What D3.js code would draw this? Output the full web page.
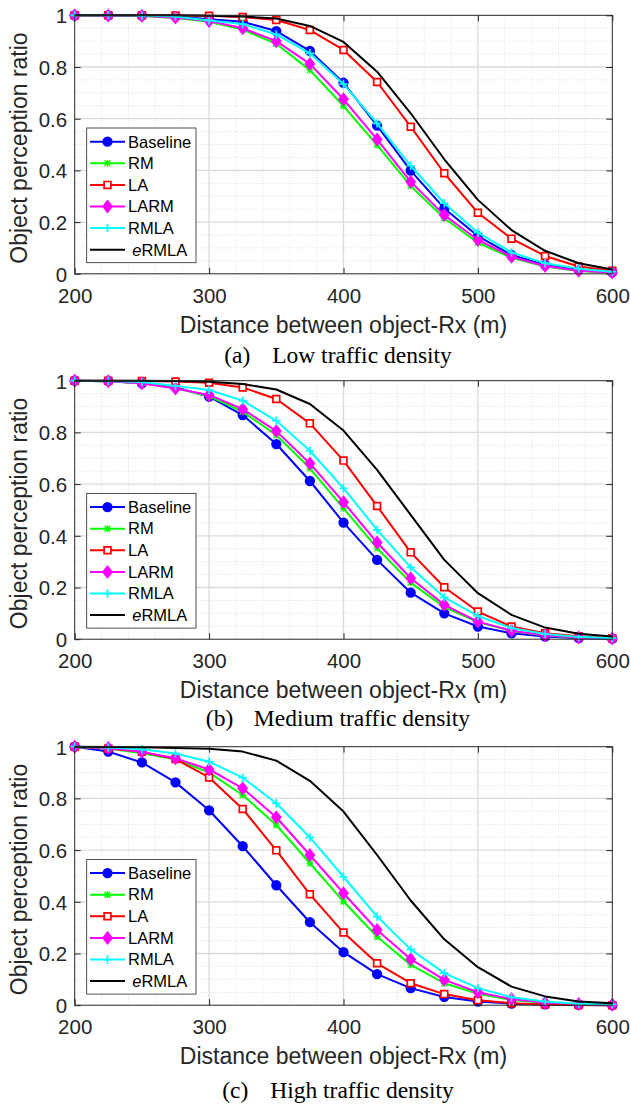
<!DOCTYPE html>
<html>
<head>
<meta charset="utf-8">
<script src="https://cdn.jsdelivr.net/npm/d3@7"></script>
<style>
  body { margin: 0; background: #fff; }
  svg { display: block; }
</style>
</head>
<body>
<div id="chart"></div>
<script>
// x values shared by every panel
var distances = [200, 225, 250, 275, 300, 325, 350, 375, 400, 425, 450, 475, 500, 525, 550, 575, 600];
var seriesNames = ["Baseline", "RM", "LA", "LARM", "RMLA", "eRMLA"];
var xTicks = [200, 300, 400, 500, 600];
var yTicks = [0, 0.2, 0.4, 0.6, 0.8, 1];
var captionTags = ["(a)", "(b)", "(c)"];
var captionTexts = ["Low traffic density", "Medium traffic density", "High traffic density"];

// (a) low traffic density
var lowBaseline = [1, 1, 0.999, 0.995, 0.985, 0.975, 0.939, 0.862, 0.739, 0.573, 0.399, 0.253, 0.146, 0.073, 0.034, 0.015, 0.006];
var lowRM       = [1, 0.999, 0.997, 0.99, 0.975, 0.945, 0.89, 0.788, 0.649, 0.498, 0.34, 0.215, 0.12, 0.062, 0.028, 0.011, 0.004];
var lowLA       = [1, 1, 1, 0.999, 0.998, 0.993, 0.982, 0.943, 0.866, 0.742, 0.569, 0.389, 0.236, 0.136, 0.069, 0.028, 0.012];
var lowLARM     = [1, 0.999, 0.998, 0.991, 0.978, 0.95, 0.9, 0.812, 0.675, 0.52, 0.356, 0.227, 0.131, 0.066, 0.03, 0.012, 0.005];
var lowRMLA     = [1, 1, 0.999, 0.995, 0.98, 0.966, 0.926, 0.853, 0.734, 0.582, 0.418, 0.273, 0.159, 0.083, 0.041, 0.02, 0.008];
var lowERMLA    = [1, 1, 1, 1, 0.998, 0.995, 0.988, 0.959, 0.897, 0.782, 0.621, 0.443, 0.286, 0.169, 0.089, 0.041, 0.017];

// (b) medium traffic density
var medBaseline = [1, 0.998, 0.99, 0.975, 0.938, 0.867, 0.755, 0.612, 0.451, 0.307, 0.18, 0.1, 0.049, 0.023, 0.01, 0.004, 0.002];
var medRM       = [1, 0.998, 0.99, 0.972, 0.94, 0.88, 0.79, 0.661, 0.506, 0.352, 0.219, 0.124, 0.066, 0.032, 0.014, 0.006, 0.003];
var medLA       = [1, 1, 0.999, 0.997, 0.992, 0.974, 0.929, 0.835, 0.691, 0.515, 0.336, 0.201, 0.107, 0.049, 0.023, 0.011, 0.004];
var medLARM     = [1, 0.998, 0.99, 0.97, 0.945, 0.89, 0.805, 0.68, 0.53, 0.374, 0.236, 0.133, 0.068, 0.033, 0.015, 0.007, 0.003];
var medRMLA     = [1, 0.999, 0.995, 0.98, 0.964, 0.923, 0.845, 0.729, 0.584, 0.423, 0.278, 0.162, 0.09, 0.043, 0.02, 0.009, 0.004];
var medERMLA    = [1, 1, 1, 0.999, 0.996, 0.987, 0.966, 0.91, 0.807, 0.655, 0.481, 0.307, 0.178, 0.094, 0.045, 0.021, 0.01];

// (c) high traffic density
var highBaseline = [1, 0.981, 0.939, 0.862, 0.754, 0.615, 0.464, 0.321, 0.205, 0.12, 0.066, 0.032, 0.014, 0.006, 0.003, 0.001, 0];
var highRM       = [1, 0.993, 0.975, 0.951, 0.9, 0.813, 0.697, 0.549, 0.401, 0.265, 0.156, 0.085, 0.044, 0.02, 0.009, 0.004, 0.002];
var highLA       = [1, 0.993, 0.98, 0.952, 0.881, 0.759, 0.599, 0.429, 0.281, 0.162, 0.085, 0.043, 0.019, 0.008, 0.003, 0.001, 0];
var highLARM     = [1, 0.995, 0.98, 0.955, 0.912, 0.839, 0.727, 0.581, 0.433, 0.291, 0.178, 0.098, 0.05, 0.024, 0.01, 0.005, 0.002];
var highRMLA     = [1, 0.997, 0.99, 0.974, 0.942, 0.88, 0.781, 0.649, 0.497, 0.343, 0.216, 0.124, 0.066, 0.031, 0.014, 0.006, 0.003];
var highERMLA    = [1, 0.999, 0.998, 0.995, 0.992, 0.981, 0.946, 0.868, 0.749, 0.581, 0.405, 0.255, 0.147, 0.072, 0.034, 0.014, 0.008];

var panels = [
  [lowBaseline, lowRM, lowLA, lowLARM, lowRMLA, lowERMLA],
  [medBaseline, medRM, medLA, medLARM, medRMLA, medERMLA],
  [highBaseline, highRM, highLA, highLARM, highRMLA, highERMLA]
];

// styling per series (colour, marker)
var styles = [
  {color: "#0000ff", marker: "circle"},
  {color: "#00ff00", marker: "star"},
  {color: "#ff0000", marker: "square"},
  {color: "#ff00ff", marker: "diamond"},
  {color: "#00ffff", marker: "plus"},
  {color: "#000000", marker: "none"}
];

var W = 631, H = 1106;
var left = 74.7, plotW = 537.6, plotH = 258.5;
var panelTops = [15.3, 380.7, 746.7];
var captionOffsets = [89, 87, 93];
var axisColor = "#262626";
var sans = "'Liberation Sans', Arial, Helvetica, sans-serif";
var serif = "'Liberation Serif', 'Times New Roman', serif";

var svg = d3.select("#chart").append("svg")
  .attr("width", W).attr("height", H);
svg.append("rect").attr("width", W).attr("height", H).attr("fill", "#fff");

var x = d3.scaleLinear().domain([200, 600]).range([0, plotW]);
var y = d3.scaleLinear().domain([0, 1]).range([plotH, 0]);

function markerPath(type) {
  switch (type) {
    case "circle": return "M4.3,0A4.3,4.3 0 1,1 -4.3,0A4.3,4.3 0 1,1 4.3,0Z";
    case "square": return "M-3.4,-3.4H3.4V3.4H-3.4Z";
    case "diamond": return "M0,-5.6L4.4,0L0,5.6L-4.4,0Z";
    case "plus": return "M-4.2,0H4.2M0,-4.2V4.2";
    case "star": return "M-3,-3L3,3M-3,3L3,-3M0,-3.4V3.4M-3.4,0H3.4";
  }
  return "";
}

function drawMarker(sel, st) {
  var filled = st.marker === "circle" || st.marker === "diamond";
  sel.attr("d", markerPath(st.marker))
    .attr("fill", filled ? st.color : (st.marker === "square" ? "#fff" : "none"))
    .attr("stroke", st.color)
    .attr("stroke-width", st.marker === "star" ? 1.3 : 1.7);
}

var line = d3.line()
  .x(function(d) { return x(d[0]); })
  .y(function(d) { return y(d[1]); });

panels.forEach(function(series, p) {
  var g = svg.append("g")
    .attr("transform", "translate(" + left + "," + panelTops[p] + ")");

  // minor grid (dotted)
  var minorX = d3.range(220, 600, 20).filter(function(v) { return v % 100 !== 0; });
  var minorY = d3.range(0.05, 1, 0.05).filter(function(v) { return Math.abs(v * 5 - Math.round(v * 5)) > 1e-6; });
  g.append("g").selectAll("line").data(minorX).enter().append("line")
    .attr("x1", function(d) { return x(d); }).attr("x2", function(d) { return x(d); })
    .attr("y1", 0).attr("y2", plotH)
    .attr("stroke", "#d4d4d4").attr("stroke-width", 0.8).attr("stroke-dasharray", "1,2");
  g.append("g").selectAll("line").data(minorY).enter().append("line")
    .attr("y1", function(d) { return y(d); }).attr("y2", function(d) { return y(d); })
    .attr("x1", 0).attr("x2", plotW)
    .attr("stroke", "#d4d4d4").attr("stroke-width", 0.8).attr("stroke-dasharray", "1,2");

  // major grid
  g.append("g").selectAll("line").data(xTicks.slice(1, -1)).enter().append("line")
    .attr("x1", function(d) { return x(d); }).attr("x2", function(d) { return x(d); })
    .attr("y1", 0).attr("y2", plotH)
    .attr("stroke", "#dadada").attr("stroke-width", 1.3);
  g.append("g").selectAll("line").data(yTicks.slice(1, -1)).enter().append("line")
    .attr("y1", function(d) { return y(d); }).attr("y2", function(d) { return y(d); })
    .attr("x1", 0).attr("x2", plotW)
    .attr("stroke", "#dadada").attr("stroke-width", 1.3);

  // axes with inward ticks
  var xAxis = g.append("g").attr("transform", "translate(0," + plotH + ")")
    .call(d3.axisBottom(x).tickValues(xTicks).tickSizeInner(-6).tickSizeOuter(0).tickFormat(d3.format("d")));
  xAxis.selectAll("text")
    .attr("y", 29).attr("dy", null)
    .style("font-family", sans).style("font-size", "20.5px").attr("fill", axisColor);
  var yAxis = g.append("g")
    .call(d3.axisLeft(y).tickValues(yTicks).tickSizeInner(-6).tickSizeOuter(0).tickFormat(function(d) { return d === 0 || d === 1 ? d : d.toFixed(1); }));
  yAxis.selectAll("text")
    .attr("x", -7.5).attr("dy", "0.36em")
    .style("font-family", sans).style("font-size", "20.5px").attr("fill", axisColor);
  g.append("g").call(d3.axisTop(x).tickValues(xTicks).tickSizeInner(-6).tickSizeOuter(0).tickFormat(""));
  g.append("g").attr("transform", "translate(" + plotW + ",0)")
    .call(d3.axisRight(y).tickValues(yTicks).tickSizeInner(-6).tickSizeOuter(0).tickFormat(""));
  g.selectAll(".domain").remove();
  g.selectAll(".tick line").attr("stroke", axisColor);

  // lines and markers
  series.forEach(function(vals, i) {
    var st = styles[i];
    var pts = distances.map(function(d, k) { return [d, vals[k]]; });
    g.append("path").datum(pts)
      .attr("d", line)
      .attr("fill", "none")
      .attr("stroke", st.color)
      .attr("stroke-width", 2)
      .attr("stroke-linejoin", "round");
    if (st.marker !== "none") {
      g.append("g").selectAll("path").data(pts).enter().append("path")
        .attr("transform", function(d) { return "translate(" + x(d[0]) + "," + y(d[1]) + ")"; })
        .call(drawMarker, st);
    }
  });

  // box
  g.append("rect").attr("width", plotW).attr("height", plotH)
    .attr("fill", "none").attr("stroke", axisColor).attr("stroke-width", 1);

  // legend
  var lg = g.append("g").attr("transform", "translate(12,112.7)");
  lg.append("rect").attr("width", 109.3).attr("height", 134.7)
    .attr("fill", "#fff").attr("stroke", axisColor).attr("stroke-width", 0.8);
  seriesNames.forEach(function(name, i) {
    var st = styles[i];
    var cy = 13.7 + i * 21.6;
    lg.append("line").attr("x1", 3.3).attr("x2", 38.3).attr("y1", cy).attr("y2", cy)
      .attr("stroke", st.color).attr("stroke-width", 2);
    if (st.marker !== "none") {
      lg.append("path").attr("transform", "translate(20.8," + cy + ")").call(drawMarker, st);
    }
    var t = lg.append("text").attr("y", cy + 5.8)
      .style("font-family", sans).style("font-size", "16.5px").attr("fill", "#000");
    if (name === "eRMLA") {
      t.attr("x", 45.5);
      t.append("tspan").style("font-style", "italic").text("e");
      t.append("tspan").text("RMLA");
    } else {
      t.attr("x", 41.3).text(name);
    }
  });

  // axis labels
  g.append("text")
    .attr("x", plotW / 2).attr("y", plotH + 59)
    .attr("text-anchor", "middle")
    .style("font-family", sans).style("font-size", "23px").attr("fill", axisColor)
    .text("Distance between object-Rx (m)");
  g.append("text")
    .attr("transform", "translate(" + (27 - left) + "," + (plotH / 2 + 3.5) + ") rotate(-90)")
    .attr("text-anchor", "middle")
    .style("font-family", sans).style("font-size", "23px").attr("fill", axisColor)
    .text("Object perception ratio");

  // caption
  var capY = plotH + captionOffsets[p];
  var tag = g.append("text").attr("y", capY)
    .style("font-family", serif).style("font-size", "23.5px").attr("fill", "#000")
    .text(captionTags[p]);
  var desc = g.append("text").attr("y", capY)
    .style("font-family", serif).style("font-size", "23.5px").attr("fill", "#000")
    .text(captionTexts[p]);
  var total = 48 + desc.node().getComputedTextLength();
  var x0 = 338 - left - total / 2;
  tag.attr("x", x0);
  desc.attr("x", x0 + 48);
});
</script>
</body>
</html>
